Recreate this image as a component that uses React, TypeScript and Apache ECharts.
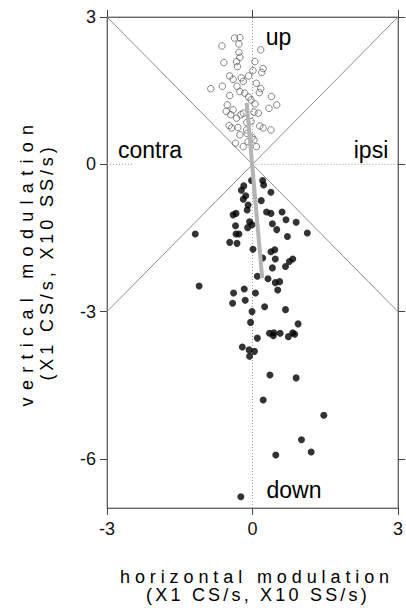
import React, { useEffect, useRef } from "react";
import * as echarts from "echarts";

// ---- data ----
const xTicks = [-3, 0, 3];
const yTicks = [-6, -3, 0, 3];

// open circles: "up" responses
const upPoints: [number, number][] = [
  [-0.37, 2.57], [-0.26, 2.58], [-0.28, 2.45], [-0.63, 2.41], [0.17, 2.33], [-0.28, 2.28],
  [-0.26, 2.18], [0.05, 2.09], [-0.59, 2.07], [-0.33, 2.09], [-0.31, 1.99], [0.22, 1.95],
  [0.01, 1.91], [0.19, 1.87], [-0.08, 1.8], [-0.47, 1.8], [-0.4, 1.73], [-0.23, 1.76],
  [-0.19, 1.69], [0.08, 1.65], [-0.32, 1.59], [-0.62, 1.59], [-0.86, 1.54], [0.17, 1.54],
  [0.14, 1.46], [-0.26, 1.48], [-0.16, 1.45], [-0.47, 1.4], [-0.08, 1.37], [-0.03, 1.31],
  [0.39, 1.38], [0.05, 1.23], [0.5, 1.21], [0.34, 1.14], [-0.52, 1.21], [-0.4, 1.11],
  [-0.54, 1.08], [-0.45, 1.01], [-0.24, 1.01], [-0.19, 1.04], [-0.33, 0.94], [0.03, 1.06],
  [0.12, 1.04], [-0.12, 0.85], [-0.03, 0.87], [-0.48, 0.79], [-0.43, 0.74], [-0.3, 0.75],
  [0.15, 0.78], [0.22, 0.74], [0.38, 0.7], [-0.26, 0.6], [-0.11, 0.63], [-0.01, 0.55],
  [0.03, 0.5], [-0.35, 0.43], [0.08, 0.36], [-0.19, 0.36], [-0.09, 0.46], [-0.12, 0.7],
];

// filled dots: "down" responses
const downPoints: [number, number][] = [
  [-0.02, -0.33], [-0.18, -0.44], [0.21, -0.33], [0.23, -0.42], [-0.23, -0.53], [0.38, -0.57],
  [-0.14, -0.64], [-0.19, -0.71], [0.18, -0.74], [-0.09, -0.83], [-0.11, -0.93], [-0.34, -1.0],
  [-0.4, -1.03], [0.29, -0.97], [0.38, -1.0], [0.61, -0.97], [0.69, -1.13], [0.9, -1.18],
  [0.41, -1.21], [-0.06, -1.17], [-0.01, -1.23], [-0.1, -1.29], [-0.35, -1.25], [0.5, -1.33],
  [1.13, -1.4], [0.72, -1.47], [-1.18, -1.42], [-0.34, -1.42], [-0.28, -1.42], [-0.47, -1.59],
  [-0.32, -1.61], [0.01, -1.73], [0.38, -1.78], [0.46, -1.74], [0.21, -1.91], [0.47, -1.93],
  [0.83, -1.93], [0.76, -1.98], [0.68, -2.08], [0.41, -2.11], [0.1, -2.28], [0.32, -2.33],
  [0.47, -2.41], [0.56, -2.39], [0.52, -2.56], [-1.1, -2.48], [-0.17, -2.54], [-0.39, -2.62],
  [0.06, -2.62], [-0.41, -2.83], [-0.15, -2.77], [0.25, -2.9], [0.68, -2.96], [-0.01, -3.0],
  [-0.04, -3.22], [0.94, -3.25], [0.35, -3.44], [0.44, -3.43], [0.57, -3.44], [0.83, -3.43],
  [0.74, -3.51], [0.87, -3.46], [0.1, -3.54], [0.43, -3.49], [-0.21, -3.72], [-0.07, -3.78],
  [0.04, -3.81], [-0.06, -3.91], [0.36, -4.29], [0.9, -4.35], [0.22, -4.8], [1.47, -5.11],
  [1.01, -5.61], [1.21, -5.86], [0.48, -5.92], [-0.24, -6.77],
];

// grey mean-direction line
const trendLine: [number, number][] = [[-0.12, 1.25], [0.2, -2.32]];

// reference lines
const diagDown: [number, number][] = [[-3, 3], [3, -3]];
const diagUp: [number, number][] = [[-3, -3], [3, 3]];
const zeroVertical: [number, number][] = [[0, -7], [0, 3]];
const zeroRight: [number, number][] = [[0, 0], [3, 0]];
const zeroLeft: [number, number][] = [[-3, 0], [-2.46, 0]];

const FONT = '"Liberation Sans", Arial, Helvetica, sans-serif';

export default function App() {
  const ref = useRef<HTMLDivElement>(null);

  useEffect(() => {
    if (!ref.current) return;
    const chart = echarts.init(ref.current, undefined, { renderer: "svg" });

    const axisLine = { show: true, onZero: false, lineStyle: { color: "#666", width: 1 } };
    const axisTick = { show: true, inside: false, length: 7, lineStyle: { color: "#444", width: 1 } };

    const refLine = (data: [number, number][], type: any, color: string) => ({
      type: "line",
      data,
      symbol: "none",
      silent: true,
      lineStyle: { color, width: 1, type },
      z: 1,
    });

    const label = (text: string, x: number, y: number, size: number, rot = 0) => ({
      type: "text",
      x,
      y,
      rotation: rot,
      style: {
        text,
        font: `${size}px ${FONT}`,
        fill: "#000",
        align: "center",
        verticalAlign: "middle",
        textAlign: "center",
        textVerticalAlign: "middle",
      },
    });

    chart.setOption({
      animation: false,
      grid: { left: 107, right: 8, top: 17, bottom: 104, show: true, borderColor: "#888", borderWidth: 1 },
      xAxis: [
        {
          type: "value", min: -3, max: 3, interval: 3, position: "bottom",
          axisLine, axisTick,
          axisLabel: { margin: 12, fontSize: 18, color: "#111", fontFamily: FONT, customValues: xTicks },
          splitLine: { show: false },
        },
        {
          type: "value", min: -3, max: 3, interval: 3, position: "top",
          axisLine, axisTick, axisLabel: { show: false }, splitLine: { show: false },
        },
      ],
      yAxis: [
        {
          type: "value", min: -7, max: 3, interval: 1, position: "left",
          axisLine,
          axisTick: { ...axisTick, customValues: yTicks },
          axisLabel: { margin: 11, fontSize: 18, color: "#111", fontFamily: FONT, customValues: yTicks },
          splitLine: { show: false },
        },
        {
          type: "value", min: -7, max: 3, interval: 1, position: "right",
          axisLine,
          axisTick: { ...axisTick, customValues: yTicks },
          axisLabel: { show: false, customValues: yTicks },
          splitLine: { show: false },
        },
      ],
      series: [
        refLine(diagDown, "solid", "#8c8c8c"),
        refLine(diagUp, "solid", "#8c8c8c"),
        refLine(zeroVertical, [1, 2], "#999"),
        refLine(zeroRight, [1, 2], "#999"),
        refLine(zeroLeft, [1, 2], "#999"),
        {
          type: "scatter",
          data: upPoints,
          symbol: "circle",
          symbolSize: 6.5,
          itemStyle: { color: "rgba(255,255,255,0)", borderColor: "#555", borderWidth: 0.9 },
          z: 3,
        },
        {
          type: "scatter",
          data: downPoints,
          symbol: "circle",
          symbolSize: 7,
          itemStyle: { color: "#000" },
          z: 3,
        },
        {
          type: "line",
          data: trendLine,
          symbol: "none",
          lineStyle: { color: "#b4b4b4", width: 4 },
          z: 4,
        },
      ],
      graphic: [
        label("up", 278.5, 37, 23),
        label("contra", 150, 150, 23),
        label("ipsi", 371, 150, 23),
        label("down", 294, 490, 23),
        label("horizontal modulation", 257, 577, 18),
        label("(X1 CS/s, X10 SS/s)", 258, 595, 18),
        label("vertical modulation", 27, 262, 18, Math.PI / 2),
        label("(X1 CS/s, X10 SS/s)", 47, 262, 18, Math.PI / 2),
      ],
    });

    const spaceTitles = () => {
      const dom = ref.current;
      if (!dom) return;
      dom.querySelectorAll("text").forEach((t) => {
        const s = (t.textContent || "").trim();
        const tr = t.getAttribute("transform") || "";
        const rotated = /matrix\(\s*[-0-9.e]+\s*[ ,]\s*(-?[0-9.e]+)/.exec(tr);
        const isRot = rotated ? Math.abs(parseFloat(rotated[1])) > 0.5 : false;
        if (s === "horizontal modulation") t.setAttribute("letter-spacing", "4.9px");
        else if (s === "vertical modulation") t.setAttribute("letter-spacing", "7.3px");
        else if (s === "(X1 CS/s, X10 SS/s)") t.setAttribute("letter-spacing", isRot ? "3.9px" : "3.2px");
      });
    };
    spaceTitles();
    chart.on("finished", spaceTitles);
    const timer = setTimeout(spaceTitles, 0);

    return () => {
      clearTimeout(timer);
      chart.dispose();
    };
  }, []);

  return (
    <div
      ref={ref}
      style={{ position: "absolute", left: 0, top: 0, width: 406, height: 612, background: "#fff" }}
    />
  );
}
